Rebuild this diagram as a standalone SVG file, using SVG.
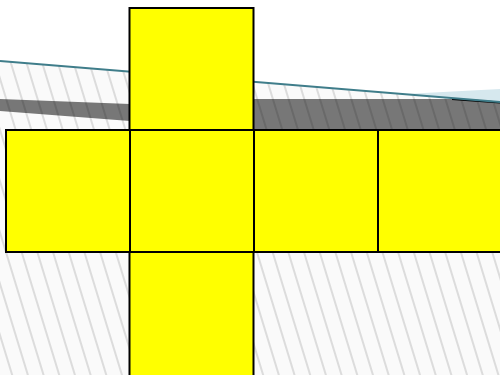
<svg xmlns="http://www.w3.org/2000/svg" width="500" height="375" viewBox="0 0 500 375">
  <style>
    .face { fill: #ffff00; stroke: #000000; stroke-width: 2; }
  </style>
  <defs>
    <pattern id="hatch" patternUnits="userSpaceOnUse" width="15" height="15" patternTransform="rotate(-17)">
      <line x1="7" y1="-2" x2="7" y2="17" stroke="#000000" stroke-opacity="0.2" stroke-width="1.2"/>
    </pattern>
  </defs>
  <rect x="0" y="0" width="500" height="375" fill="#ffffff"/>
  <g id="ground">
    <polygon points="0,61 500,103 500,375 0,375" fill="#fafafa"/>
    <polygon points="0,99 130,104 130,121 0,111" fill="#777777"/>
    <polygon points="253,99 451,99 500,103 500,131 253,131" fill="#777777"/>
    <polygon points="0,61 500,103 500,375 0,375" fill="url(#hatch)"/>
    <polygon points="405,94 500,89 500,102" fill="#d6e8ee"/>
    <line x1="452" y1="99" x2="500" y2="102.5" stroke="#000000" stroke-width="2"/>
    <line x1="0" y1="61" x2="500" y2="102" stroke="#3f7d8a" stroke-width="2"/>
  </g>
  <g id="connectors"></g>
  <g id="face-top"><rect class="face" x="129.5" y="8" width="124" height="122"/></g>
  <g id="face-left"><rect class="face" x="6" y="130" width="124" height="122"/></g>
  <g id="face-center"><rect class="face" x="130" y="130" width="124" height="122"/></g>
  <g id="face-right"><rect class="face" x="254" y="130" width="124" height="122"/></g>
  <g id="face-far-right"><rect class="face" x="378" y="130" width="130" height="122"/></g>
  <g id="face-bottom"><rect class="face" x="129.5" y="252" width="124" height="130"/></g>
</svg>
